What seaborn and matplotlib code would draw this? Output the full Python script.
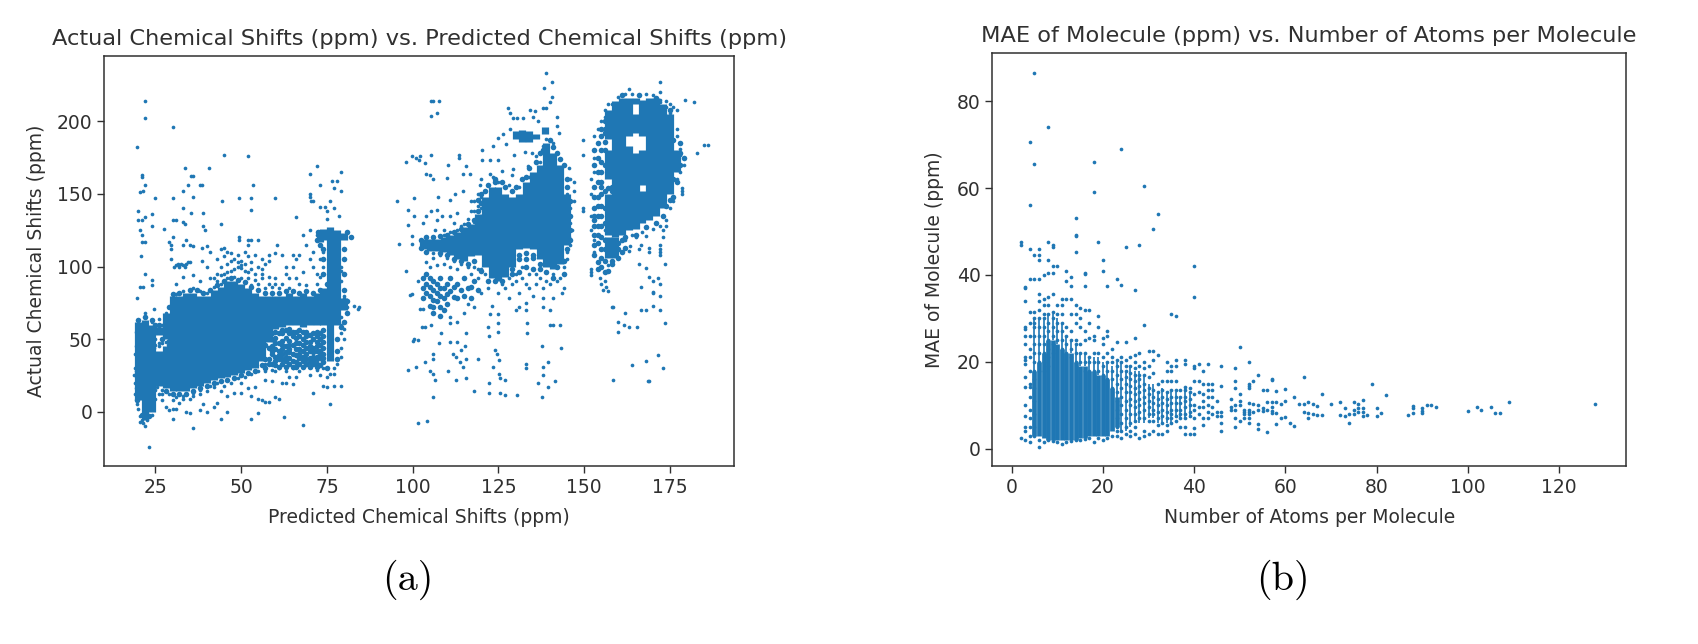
import matplotlib
matplotlib.use('Agg')
import matplotlib.pyplot as plt
import seaborn as sns

BLUE = '#1f77b4'
INK = '#303030'

##### values

# solid parts of the clouds: predicted -> (low, high) of actual
a_solid = [
    (20, 8, 62), (22, -6, 63), (24, 0, 60), (26, 18, 42), (26, 53, 58), (28, 16, 45), (28, 50, 68),
    (30, 14, 80), (32, 14, 80), (34, 14, 82), (36, 16, 82), (38, 18, 80), (40, 20, 80), (42, 22, 84),
    (44, 23, 86), (46, 24, 90), (48, 25, 90), (50, 27, 88), (52, 29, 85), (54, 30, 82), (56, 35, 80),
    (58, 48, 80), (60, 57, 80), (62, 58, 80), (64, 60, 82), (66, 60, 80), (68, 58, 82), (70, 60, 80),
    (72, 60, 82), (73, 117, 125), (74, 60, 85), (74, 118, 126), (76, 35, 127), (78, 60, 125), (80, 70, 78), (80, 118, 123),
    (103, 112, 119), (105, 111, 119), (107, 111, 119), (109, 110, 120), (111, 108, 122), (113, 105, 124),
    (115, 104, 127), (117, 107, 129), (119, 108, 136), (121, 100, 148), (123, 92, 155), (125, 90, 155),
    (127, 93, 150), (129, 100, 148), (131, 112, 150), (133, 113, 158), (135, 112, 165), (137, 105, 170),
    (139, 100, 185), (141, 98, 178), (143, 102, 170), (145, 115, 150),
    (130, 188, 193), (132, 186, 194), (134, 186, 193), (136, 188, 191), (138.5, 191, 196),
    (157, 122, 150), (157, 160, 180), (157, 188, 208), (159, 120, 214), (161, 122, 216),
    (163, 125, 183), (163, 190, 216), (165, 126, 178), (165, 192, 205), (165, 212, 216),
    (167, 130, 152), (167, 156, 180), (167, 190, 215), (169, 132, 216), (171, 135, 216),
    (173, 140, 212), (175, 150, 205), (177, 165, 180),
    (157, 106, 120), (159, 106, 120),
]

# thinner clouds and soft edges, drawn with a mid marker
a_mid = [
    (58, 33), (59, 40), (60, 47), (61, 36), (62, 43), (63, 51), (64, 33), (65, 46), (66, 39), (67, 52), (68, 31),
    (69, 44), (70, 37), (71, 50), (72, 33), (73, 42), (74, 48), (73.5, 36), (59, 50), (62, 36), (65, 31), (68, 50),
    (71, 41), (56, 38), (57, 46), (64, 49), (67, 43), (58, 53), (60, 38), (61, 54), (63, 41), (64, 54), (66, 47), (66, 55),
    (68, 38), (69, 55), (70, 48), (72, 45), (72, 55), (73, 54), (74, 40), (74, 34), (60, 32), (63, 35), (66, 34), (69, 33),
    (71, 35), (57, 36), (59, 45), (62, 49), (65, 52), (68, 46), (70, 42), (72, 38), (61, 42), (64, 43), (67, 37),
    (57, 30), (58, 36), (58, 44), (59, 33), (59, 42), (59, 54), (60, 35), (60, 43), (60, 51), (61, 31), (61, 39), (61, 47),
    (62, 33), (62, 40), (62, 46), (62, 54), (63, 31), (63, 38), (63, 45), (63, 56), (64, 37), (64, 41), (64, 46), (65, 35),
    (65, 40), (65, 55), (66, 31), (66, 43), (66, 51), (67, 33), (67, 40), (67, 47), (67, 56), (68, 35), (68, 42), (68, 55),
    (69, 36), (69, 40), (69, 48), (69, 52), (70, 31), (70, 34), (70, 45), (70, 53), (71, 33), (71, 38), (71, 44), (71, 54),
    (72, 31), (72, 36), (72, 42), (72, 48), (72, 52), (73, 32), (73, 39), (73, 46), (73, 50), (74, 37), (74, 44), (74, 52),
    (74, 56), (60, 55), (62, 56), (64, 57),
    (29, 72), (30, 81), (32, 82), (35, 84), (37, 84), (39, 82), (41, 84), (43, 87), (45, 90), (47, 92), (49, 91), (51, 89),
    (53, 86), (55, 84), (57, 82), (59, 82), (61, 82), (63, 83), (65, 83), (67, 82), (69, 83), (71, 82), (73, 84), (75, 88),
    (74, 95), (74, 105), (74, 112), (80, 95), (80, 105), (80, 112), (80, 84), (81, 76), (81, 68), (80, 62), (79, 58), (78, 50),
    (78, 42), (78, 36), (75, 30), (73, 115), (82, 120), (81, 124), (72, 118), (72.5, 124),
    (28, 14), (30, 12), (32, 12), (34, 12), (36, 14), (38, 16), (40, 18), (42, 20), (44, 21), (46, 22), (48, 23), (50, 25),
    (52, 27), (54, 28), (56, 32), (23, -3), (21, -2), (19.5, 8), (19.5, 16), (19.5, 28), (19.5, 45), (19.5, 55), (20, 63),
    (22, 65), (24, 63), (25, 60), (26, 60), (27, 50), (29, 46), (29, 49),
    (103, 92), (103, 85), (103, 78), (105, 92), (105, 86), (105, 80), (105, 73), (107, 88), (107, 82), (107, 76),
    (109, 85), (109, 78), (109, 70), (111, 92), (111, 83), (106, 68), (108, 66), (113, 88), (115, 92), (116, 85), (113, 78),
    (118, 90), (117, 78), (104, 88), (104, 82), (106, 90), (106, 84), (106, 77), (108, 85), (108, 80), (108, 72), (110, 88),
    (110, 81), (110, 74), (112, 86), (112, 79), (114, 84), (115, 80), (117, 86), (119, 84), (108, 92), (106, 72), (104, 95),
    (120, 150), (119, 146), (121, 152), (122, 156), (124, 158), (124, 160), (126, 158), (127, 155), (129, 152), (130, 155),
    (132, 160), (133, 162), (134, 168), (136, 172), (137, 178), (138, 180), (140, 187), (141, 182), (142, 178), (143, 174),
    (144, 170), (145, 160), (145, 155), (146, 145), (146, 135), (146, 125), (146, 118), (145, 112), (144, 104), (142, 100),
    (144, 95), (141, 92), (139, 96), (137, 102), (135, 108), (133, 109), (131, 108), (129, 98), (126, 90), (124, 90), (122, 90),
    (120, 97), (118, 104), (116, 102), (114, 104), (112, 105), (110, 108), (108, 109), (104, 110), (102.5, 113), (102.5, 118),
    (104, 120), (106, 120), (108, 121), (110, 122), (112, 124), (114, 126), (116, 129), (118, 132), (119, 138), (120, 144),
    (127, 104), (129, 95), (131, 105), (133, 105), (135, 106), (133, 100), (131, 96), (135, 98), (137, 98),
    (154, 116), (156, 112), (160, 112), (161, 118), (155, 106), (158, 102), (153, 122), (155, 120), (154, 128), (153, 140),
    (153, 155), (155, 150), (155, 165), (155, 180), (154, 175), (155, 190), (158, 152), (155, 135), (153, 132), (154, 148),
    (155, 158), (154, 165), (153, 170), (154, 185), (156, 195), (156, 186), (166, 218), (161, 218), (171, 216),
    (176, 187), (178, 185), (177, 172), (178, 178), (176, 160), (177, 158), (175, 146), (173, 135), (174, 190), (175, 208),
    (153, 128), (153, 135), (154, 122), (154, 135), (154, 142), (155, 128), (155, 142), (155, 155), (155, 172), (154, 158),
    (153, 148), (153, 180), (155, 195), (156, 130), (156, 140), (156, 152), (156, 170), (156, 180), (156, 200), (156, 192),
    (158, 155), (157, 154), (176, 175), (177, 168), (179, 175), (178, 170), (176, 148), (174, 142), (171, 130), (168, 127),
    (165, 122), (162, 120), (158, 118), (153, 108), (154, 103), (155, 112), (156, 104), (156, 118), (158, 104), (160, 106),
    (160, 116), (161, 110), (162, 113), (153, 115), (155, 100), (157, 97), (154, 98), (156, 96),
]

a_points = [
    (22, 214), (22, 202), (19.5, 182), (21, 163), (21, 162), (22, 156), (20.5, 151), (21.5, 152), (30, 196), (25, 147),
    (20, 138), (20, 132), (21, 132), (22, 134), (24, 136), (24, 128), (20.5, 125), (21, 122), (21, 117), (22, 117),
    (20.8, 107), (22, 95), (24, 91), (24, 87), (20.5, 86), (21.5, 86), (19.5, 78), (24.5, 71), (22, 68),
    (27.5, 126), (30, 147), (30, 132), (31, 132), (33, 131), (33.5, 129), (33, 152), (34.5, 156), (33.5, 168), (33, 140),
    (36, 162.5), (35.5, 162.5), (36, 148), (35.5, 137), (38, 156), (38.5, 156), (39, 137), (39, 128), (39.5, 125),
    (40.5, 168), (44, 129), (44.5, 145), (45, 177), (49.5, 147), (52, 176), (53, 147), (53, 139), (53.5, 156), (60, 147),
    (66, 134), (70, 164), (70, 150), (70, 148), (70.5, 145), (71, 145), (72, 169), (73, 156), (73, 141), (74.5, 141),
    (75, 138), (75, 133), (76, 145), (77, 140), (76.5, 159), (78, 159), (77, 154), (78.5, 135), (79, 152), (79, 165),
    (29, 117), (29.5, 115), (29.5, 112), (30, 120), (29.5, 105), (34, 118), (33, 115), (35, 115), (36, 114), (38.5, 113),
    (40, 114), (41, 110), (38.5, 104), (40, 100), (31, 101), (32, 100), (33, 101), (34, 102), (35, 103), (30.5, 100),
    (33, 93), (31, 88), (36, 94), (32, 101), (33.5, 100), (38, 90), (41, 92), (43, 90), (31.5, 102), (32.5, 102), (34.5, 103),
    (44, 112), (45, 113), (46, 110), (49.5, 120), (49.5, 118), (52, 115), (52, 118), (53, 118), (55, 118), (60.5, 115),
    (43, 105), (45, 107), (47, 109), (48, 105), (49, 108), (50, 104), (51, 110), (52, 107), (53, 103), (54, 108), (56, 105),
    (44, 100), (46, 102), (47, 97), (49, 100), (50, 99), (51, 97), (53, 98), (55, 100), (56, 98), (57, 102), (58, 108),
    (42, 92), (44, 94), (46, 92), (48, 93), (50, 92), (52, 92), (54, 91), (56, 92), (58, 93), (60, 88), (60, 92), (62, 88),
    (63, 95), (63, 100), (64, 92), (65, 100), (65, 108), (66, 105), (67, 108), (66, 92), (67, 88), (68, 96), (69, 115),
    (70, 125), (68, 122), (72, 122), (71, 110), (70, 105), (71, 100), (72, 95), (69, 87), (72, 88), (73, 105), (74, 100),
    (73, 93), (74, 110), (62, 108), (60, 109), (58, 104), (61, 85), (64, 85), (59, 86), (55, 88), (53, 87), (57, 85),
    (48, 98), (49, 103), (50, 101), (51, 102), (47, 104), (46, 96), (52, 96), (54, 95), (56, 95), (58, 88), (45, 95), (43, 95),
    (79, 100), (79, 97), (80, 80), (80, 78), (81, 72), (79, 90), (83, 73), (84, 71), (84.5, 72), (79, 60), (80, 57), (79, 65),
    (25, 50), (26, 47), (24.5, 44), (25.5, 40), (25, 58), (26, 57), (24, 62), (26, 64), (27, 60), (28, 68), (24, 13), (26, 12),
    (27, 8), (28, 3), (29, 1), (30, 2), (31, 2), (30, -5), (27, 15), (29, 12), (31, 10), (33, 11), (35, 9), (36, 13), (38, 12),
    (25, 9), (24, 5), (23, 2), (20.5, -7), (21.5, -8), (22, -10), (22.5, -6), (23, -24.5), (36, -11.5), (34, 0), (35, -1),
    (39, 5), (38, 1), (40, 0), (42, 3), (43, 6), (44, -5), (46, 0), (40, 14), (42, 17), (44, 14), (46, 11), (48, 13), (50, 13),
    (50, 20), (52, 16), (53, 11), (55, 9), (56, 8), (57, 7), (58, 7), (53, -5), (55, -1), (54, 17), (57, 22), (59, 21), (60, 10),
    (61, 9), (62, 20), (63, 20), (64, 24), (65, 19), (66, 24), (62.5, -3.5), (68, -9), (71, 13), (74, 18), (75, 17), (76, 5),
    (77, 18), (79, 18), (76, 26), (77, 26), (57, 28), (59, 29), (61, 30), (63, 28), (65, 30), (67, 28), (69, 32), (72, 29), (74, 30),
    (77, 30), (78, 33), (79, 38), (79, 44), (80, 50), (79, 54), (58, 55), (60, 28), (70, 25), (73, 25), (75, 24),
    (27, 12), (30, 8), (32, 6), (33, 9), (36, 11), (38, 15), (41, 18), (43, 20), (45, 18), (47, 20), (49, 23), (51, 24), (53, 26),
    (55, 28), (57, 33), (28, 48), (26, 45), (27, 47), (25, 46), (25, 15), (25.5, 17), (19, 20), (19, 30), (19, 40), (18.8, 25),
    (19, 12), (19.5, 5), (20, 2), (20.5, -3), (21, -6), (24, -2), (31, 81), (33, 83), (36, 85), (38, 83), (40, 82), (42, 86), (44, 88),
    (95.3, 145.3), (96, 115.6), (98.2, 97), (101.5, 89.7), (99.7, 81), (99.2, 80.5), (103, 71), (103.6, 58), (101.5, 49.5),
    (98.7, 28.7), (100.9, 31), (101.5, -7.6), (104.3, -6.4), (98.2, 172), (99.7, 176), (102.2, 176), (102, 173.5), (103.6, 171),
    (100.4, 147), (98.7, 139), (100.4, 135), (98.7, 128.7), (99.7, 120.7), (99.7, 115.6), (105.5, 214), (106, 214), (107.7, 214),
    (105.5, 204), (107, 206), (105.5, 176.5), (101, 175), (104, 164), (105, 163), (106, 160), (107.5, 147.6), (111, 146),
    (112.3, 150), (114.6, 152), (107, 139), (105.5, 138), (104, 134.5), (103, 130), (108.5, 134.5), (110.9, 134.5), (107, 132),
    (109, 125), (106.5, 125), (112, 130), (114, 128), (116, 133), (113, 137), (118, 138), (117, 145), (119, 142), (120, 148),
    (113.6, 177), (113.6, 175), (110.4, 170), (110, 161), (114.8, 164), (115.7, 169), (116.7, 163.7), (120, 160), (119.6, 156),
    (120.3, 180), (120.3, 173.5), (122.5, 173.5), (125, 173.5), (123.3, 183), (125, 188.5), (126.4, 191), (127.2, 184.6),
    (129.5, 177), (132.7, 179), (134.7, 178), (136, 176), (137, 172), (133.7, 169), (129.3, 167), (126, 165.5), (122.6, 164),
    (123.5, 162), (125, 158), (128, 156), (131, 155), (134, 162), (129, 163), (139, 233), (140.5, 227), (138.3, 223), (140.5, 217),
    (140, 213), (139, 209), (138, 209), (127.9, 209), (128.4, 206), (134.2, 208), (135.7, 207), (135.2, 203), (142, 203),
    (129.3, 202), (130.3, 202), (132.3, 202), (136.6, 200), (142, 197), (142.8, 192), (128.4, 195), (138, 183), (141, 185),
    (139, 188), (145.5, 168), (146, 160), (147, 158), (145, 150), (146, 140), (146, 130), (145.5, 120), (145, 110), (144, 100),
    (143, 92), (141, 95), (139, 90), (136, 88), (144, 85), (143.5, 82), (141, 78), (138, 78), (135, 80), (133, 75), (131, 82),
    (129, 88), (127, 85), (125, 82), (122, 85), (120, 82), (123, 73), (128, 78), (134, 95), (132, 100), (130, 95), (133, 88),
    (136, 95), (138, 72), (140, 70), (143, 60), (141, 60), (140, 60), (133, 70), (130, 70), (131, 72), (121, 95), (119, 98),
    (118, 100), (116, 100), (113, 98), (111, 100), (109, 102), (107, 101), (105, 100), (104, 103), (106, 106),
    (126, 88), (128, 92), (130, 90), (132, 92), (134, 85), (137, 92), (138, 85), (140, 88), (142, 90), (120, 98), (119, 92), (117, 95),
    (114, 102), (112, 104), (110, 106), (108, 108), (106, 109), (113, 125), (115, 129), (111, 124), (109, 122), (118, 131), (120, 140),
    (147, 145), (146.5, 125), (146, 115), (145, 105), (147, 152), (119, 150), (118, 145), (117, 138),
    (107.7, 47), (110.9, 48), (113, 48), (115.3, 45), (114, 42.5), (111.9, 40), (112.6, 38), (113.8, 34), (115.7, 36), (119, 36),
    (114.8, 31), (110.2, 28), (112.6, 22), (115.7, 23), (118, 14.5), (122.4, 13), (122.4, 19.5), (125.5, 12.6), (127, 11.5),
    (130.5, 11.7), (125.5, 23), (127, 22), (125.3, 26), (123.3, 30.5), (124, 42.5), (124.5, 40), (125.3, 35.6), (133, 33), (133, 30),
    (139.4, 34), (137.9, 31), (137.9, 25), (136.6, 19.5), (139.5, 17), (141.5, 21), (137.8, 10), (137.8, 45), (143.2, 44),
    (133.4, 54.5), (133.4, 61), (122.4, 52), (122.6, 67), (125, 67), (125, 61), (122, 58.6), (125, 55), (115.7, 54.5), (108.2, 54.5),
    (102.6, 58.6), (102.1, 71), (105.3, 60), (110.9, 61), (106, 26), (105, 28), (106.5, 22), (106, 10), (100, 49), (100.5, 50),
    (106, 40), (106, 36), (103.7, 34), (111, 65), (113, 62), (115, 68), (116, 74), (118, 72),
    (158.5, 22), (169, 21), (168.5, 21), (164, 32), (168, 35), (171.5, 39), (173, 30), (160, 55), (160, 62), (161.5, 60), (163, 58),
    (165.5, 58), (173.5, 61), (158, 72), (158.5, 72), (162, 68), (166.5, 70), (168, 70), (170, 73), (172, 70), (172, 80), (170, 82),
    (170, 82.5), (166.5, 86), (170, 90), (172, 88), (171.5, 92), (169, 93), (168, 99), (166, 102), (173.5, 102), (173, 120),
    (172, 110), (172, 108), (172, 112), (172, 115), (169, 113), (169, 110), (166, 112), (166.5, 115), (163.5, 114), (163, 111),
    (152, 98), (152, 96), (152, 94), (154.5, 92), (156, 90), (155, 88), (156.5, 86), (155.5, 84), (157, 83), (153, 118), (153, 110),
    (149.8, 187), (149.8, 177), (149.8, 140), (149.8, 138), (152, 160), (152, 150), (152, 135), (152, 125), (153, 190), (153, 165),
    (153, 175), (154, 195), (156, 203), (157, 212), (185, 184), (186, 184), (183, 178), (179.5, 215), (182, 213), (172, 227), (172, 220),
    (172, 215), (163, 222), (177, 208), (176, 210), (177, 195), (178, 181), (178, 177), (179, 170), (178.4, 154), (178.4, 150),
    (178.4, 152), (176, 145), (175, 140), (174, 132), (174, 128), (173, 125), (177, 160), (178, 165), (177, 190), (175, 212), (174, 214),
    (159, 124), (164, 122), (167, 124), (170, 126), (172, 128), (156, 125), (162, 118), (165, 120), (168, 121), (157, 101),
    (155, 200), (156, 208), (158, 212), (160, 217), (162, 219), (164, 219), (168, 219), (170, 218), (172, 213), (174, 210), (175, 206),
]

##### values: atoms per molecule -> MAE

b_solid_x = [5, 6, 7, 8, 9, 10, 11, 12, 13, 14, 15, 16, 17, 18, 19, 20, 21, 22, 23]
b_solid_lo = [3, 3, 2.5, 2, 2, 2, 2, 2, 2, 2, 2.5, 2.5, 3, 3, 3, 3, 3, 4, 5]
b_solid_hi = [18, 20, 22, 25, 25, 24, 23, 22, 22, 20, 19, 19, 18, 18, 17, 17, 16, 14, 12]

# columns that still show white between them
b_stripes = [
    (5, 18, 30), (6, 20, 30), (7, 22, 30), (8, 25, 31), (9, 25, 31), (10, 24, 30), (11, 23, 29), (12, 22, 26), (13, 22, 25),
    (14, 20, 24), (15, 19, 22), (16, 19, 22), (17, 18, 21), (18, 18, 21), (19, 17, 21), (20, 17, 20), (21, 16, 20), (22, 14, 19),
    (23, 5, 20), (24, 4, 20), (25, 4, 18), (26, 5, 19), (27, 6, 18), (28, 6, 18), (29, 6, 17), (30, 7, 15), (31, 7, 15),
    (32, 6, 13), (33, 6, 14), (34, 6, 13), (35, 6, 13), (36, 7, 13), (37, 7, 12), (38, 7, 14), (39, 7, 13),
]

b_cols = [
    (2, [2.5, 47.5, 47]),
    (3, [2, 4, 5, 7.5, 10, 14.3, 16.5, 19.5, 20.5, 21, 24, 26, 27.5, 28, 34, 37, 37.2]),
    (4, [1.5, 3, 5, 7, 9, 12, 14.2, 15, 18, 21, 23, 26, 29, 31.5, 39, 46, 56, 70.5]),
    (5, [3, 5, 8, 11, 14, 16, 18, 20, 22, 24, 26, 28, 29, 30, 31.5, 39, 44.7, 65.6, 86.5]),
    (6, [0.3, 2, 18, 20, 22, 24, 26, 28, 30, 32, 34, 35.5, 39, 43.5, 44.5, 46]),
    (7, [1.5, 18, 20, 22, 24, 26, 28, 30, 31, 33, 34.5, 40]),
    (8, [2, 19, 21, 23, 25, 27, 29, 31, 33, 35, 40.5, 43.5, 47.5, 74]),
    (9, [1.8, 22, 24, 26, 28, 30, 31.5, 35.5, 40.5, 42, 46.5, 47]),
    (10, [1.5, 25, 27, 29, 31, 33, 42]),
    (11, [1, 23, 25, 27, 29, 31, 33, 34.5]),
    (12, [1.5, 22, 24, 26, 28, 34.5, 38.5, 41]),
    (13, [1.8, 21, 23, 25, 27, 31, 34.5, 37.5, 39.5]),
    (14, [2, 20, 22, 24, 25, 29, 31, 33, 45.2, 49, 49.2, 53]),
    (15, [2, 20, 22, 24, 28, 30, 32.5]),
    (16, [2.2, 18, 20, 22, 25, 27, 32, 37.5, 40.5, 40.3]),
    (17, [2.5, 18, 20, 21, 25.5, 29, 32]),
    (18, [1.5, 18, 20, 22, 25, 26, 59, 66]),
    (19, [2.5, 18, 20, 22, 28, 30.5, 47.5]),
    (20, [2, 17, 19, 21, 24, 25.5, 41, 43.5]),
    (21, [2.5, 16, 18, 20, 22, 26, 27, 37.5]),
    (22, [3, 14, 16, 18, 20, 21, 23]),
    (23, [3, 4, 5, 7, 9, 11, 13, 15, 17, 19, 20.5, 24.5, 39]),
    (24, [2.5, 4, 6, 8, 10, 12, 14, 16, 18, 20, 21, 37.7, 69]),
    (25, [3.5, 5, 7, 9, 11, 13, 15, 16.5, 18, 19, 20.5, 24.5, 46.5]),
    (26, [3, 4, 6, 8, 10, 11.5, 13, 14.5, 16, 17.5, 19, 21]),
    (27, [3.5, 5, 6.5, 8, 9.5, 11, 12.5, 14, 15.5, 17, 18.5, 20, 21.5, 25.5, 36.5]),
    (28, [2.5, 7, 8.5, 10, 11.5, 13, 14.5, 16, 17, 19, 22, 47]),
    (29, [3, 4, 7, 9, 10.5, 12, 13.5, 15, 17, 18.5, 20, 28.5, 60.5]),
    (30, [3.5, 6.5, 8, 9.5, 11, 12.5, 14, 16.5, 19, 22.5]),
    (31, [4, 6.5, 8, 9, 10.5, 12, 13.5, 17.5, 20.5, 22.5, 50.5]),
    (32, [3.5, 5.5, 7, 8.5, 10, 11.5, 13, 15, 21.5, 54]),
    (33, [3.3, 6, 7.5, 9, 10.5, 12, 13.5, 15.5]),
    (34, [4, 5.5, 7, 8.5, 10, 11.5, 13, 15.5, 18, 20]),
    (35, [6, 7, 8, 9, 10.5, 12, 13.5, 15.5, 18, 19, 31]),
    (36, [6.5, 7.5, 9, 10.5, 12, 13.5, 15.5, 19, 20.5, 30.5]),
    (37, [5, 7, 8, 9, 10.5, 12, 13.5]),
    (38, [3.5, 5, 7, 8, 9.5, 11, 12, 13.5, 14.3, 19.5, 20.5]),
    (39, [3.3, 7.5, 8.5, 10, 11.5, 13, 14]),
    (40, [3.3, 4.8, 7, 9, 10, 12.5, 15.5, 18.5, 19, 35, 42]),
    (41, [8, 9.5, 13, 15.5, 19.5]),
    (42, [5.5, 7, 9.5, 11, 12.5, 14.8, 18]),
    (43, [7, 8.5, 10, 12, 13.5, 15, 19.5]),
    (44, [8, 9.5, 12, 13.5, 15]),
    (45, [7.5, 8.5, 11]),
    (46, [4, 6, 7.5, 8.5, 14.5, 19]),
    (48, [9, 9.5, 11.5]),
    (49, [5, 7, 9, 10, 14, 15.5, 18.5]),
    (50, [6.5, 10, 11, 12.5, 23.5]),
    (51, [7, 8, 8.5, 9]),
    (52, [6, 7, 8, 8.5, 9, 10.5, 14, 14.5, 15, 20]),
    (53, [8.5, 10.3, 15.5]),
    (54, [4.5, 5.8, 9, 10, 17]),
    (55, [8.8, 9.3, 13.5]),
    (56, [3.9, 9, 10.8, 13.5]),
    (57, [8.3, 8.8, 9.5, 10.8, 15.8, 16]),
    (58, [5.7, 8.3, 10.8, 13.2]),
    (59, [7, 10.3]),
    (60, [7.3, 11, 13.8]),
    (61, [6]),
    (62, [5.2, 12]),
    (63, [10.3]),
    (64, [8.5, 10.3, 16.5]),
    (65, [7, 8.3, 10.8]),
    (66, [8, 10.3]),
    (67, [7.8, 9.8]),
    (68, [7.8, 12.5]),
    (70, [10.2]),
    (72, [7.8, 10.8]),
    (73, [7.5, 9.3]),
    (74, [6, 8]),
    (75, [8, 9, 10.8]),
    (76, [8.5, 9.3, 10.3]),
    (77, [7.5, 8.5, 9.3, 11.2]),
    (78, [7.8]),
    (79, [15]),
    (80, [7.6, 9.4]),
    (81, [8.3]),
    (82, [12.4]),
    (87, [7.8]),
    (88, [8.3, 9.3, 9.8]),
    (90, [8.3, 8.8, 9.4]),
    (91, [10]),
    (92, [10]),
    (93, [9.5]),
    (100, [8.7]),
    (102, [9.5]),
    (103, [9]),
    (105, [9.5]),
    (106, [8.3]),
    (107, [8.3]),
    (109, [10.8]),
    (128, [10.3]),
]


def unpack(cols):
    xs, ys = [], []
    for x, vals in cols:
        for v in vals:
            xs.append(x)
            ys.append(v)
    return xs, ys


fig = plt.figure(figsize=(16.98, 6.44), dpi=100)
W, H = 1698, 644


def make_axes(left, right, top, bottom):
    return fig.add_axes([left / W, 1 - bottom / H, (right - left) / W, (bottom - top) / H])


ax1 = make_axes(104.3, 734, 56, 466)
ax2 = make_axes(992.3, 1626, 53.3, 465.7)

# panel a
ax1.vlines([r[0] for r in a_solid], [r[1] for r in a_solid], [r[2] for r in a_solid], color=BLUE, linewidth=5.2)
sns.scatterplot(x=[p[0] for p in a_mid], y=[p[1] for p in a_mid], s=16, color=BLUE, linewidth=0, ax=ax1)
sns.scatterplot(x=[p[0] for p in a_points], y=[p[1] for p in a_points], s=7, color=BLUE, linewidth=0, ax=ax1)
ax1.set_xlim(10.1, 193.7)
ax1.set_ylim(-37.4, 245)
ax1.set_xticks([25, 50, 75, 100, 125, 150, 175])
ax1.set_yticks([0, 50, 100, 150, 200])
ax1.set_title('Actual Chemical Shifts (ppm) vs. Predicted Chemical Shifts (ppm)', fontsize=16.2, color=INK, pad=8)
ax1.set_xlabel('Predicted Chemical Shifts (ppm)', fontsize=13.5, color=INK, labelpad=8)
ax1.set_ylabel('Actual Chemical Shifts (ppm)', fontsize=13.5, color=INK, labelpad=8)

# panel b
ax2.vlines(b_solid_x, b_solid_lo, b_solid_hi, color=BLUE, linewidth=3.4)
ax2.vlines([r[0] for r in b_stripes], [r[1] for r in b_stripes], [r[2] for r in b_stripes], color=BLUE, linewidth=1.2)
x, y = unpack(b_cols)
sns.scatterplot(x=x, y=y, s=7, color=BLUE, linewidth=0, ax=ax2)
ax2.set_xlim(-4.25, 134.7)
ax2.set_ylim(-3.9, 91)
ax2.set_xticks([0, 20, 40, 60, 80, 100, 120])
ax2.set_yticks([0, 20, 40, 60, 80])
ax2.set_title('MAE of Molecule (ppm) vs. Number of Atoms per Molecule', fontsize=16.2, color=INK, pad=8)
ax2.set_xlabel('Number of Atoms per Molecule', fontsize=13.5, color=INK, labelpad=8)
ax2.set_ylabel('MAE of Molecule (ppm)', fontsize=13.5, color=INK, labelpad=9)

for ax in (ax1, ax2):
    ax.tick_params(labelsize=13.5, labelcolor=INK, color=INK, length=5, width=1)
    for spine in ax.spines.values():
        spine.set_color(INK)
        spine.set_linewidth(1.1)

fig.text(408 / W, 1 - 580 / H, '(a)', family='cmr10', fontsize=29, ha='center', va='center', color='black')
fig.text(1283 / W, 1 - 580 / H, '(b)', family='cmr10', fontsize=29, ha='center', va='center', color='black')

fig.savefig('out.png', dpi=100)
